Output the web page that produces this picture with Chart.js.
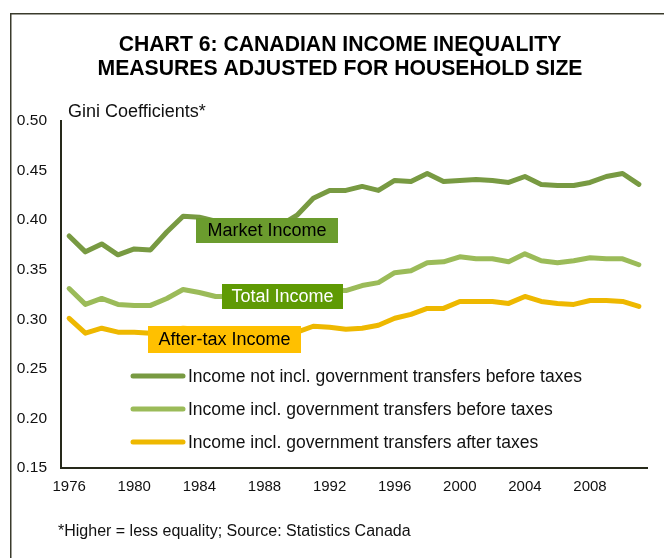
<!DOCTYPE html>
<html>
<head>
<meta charset="utf-8">
<script src="https://cdn.jsdelivr.net/npm/chart.js@4"></script>
<style>
  html, body { margin: 0; padding: 0; background: #fff; }
  #wrap { width: 664px; height: 558px; }
</style>
</head>
<body>
<div id="wrap"><canvas id="chart" width="664" height="558"></canvas></div>
<script>
/* -------------------------
   DATA (Gini coefficients)
------------------------- */
const years = [1976, 1977, 1978, 1979, 1980, 1981, 1982, 1983, 1984, 1985, 1986, 1987,
  1988, 1989, 1990, 1991, 1992, 1993, 1994, 1995, 1996, 1997, 1998, 1999,
  2000, 2001, 2002, 2003, 2004, 2005, 2006, 2007, 2008, 2009, 2010, 2011];

const marketIncome = [0.384, 0.368, 0.376, 0.365, 0.371, 0.370, 0.388, 0.404, 0.403, 0.399, 0.396, 0.395,
  0.393, 0.395, 0.405, 0.422, 0.430, 0.430, 0.434, 0.430, 0.440, 0.439, 0.447, 0.439,
  0.440, 0.441, 0.440, 0.438, 0.444, 0.436, 0.435, 0.435, 0.438, 0.444, 0.447, 0.436];

const totalIncome = [0.331, 0.315, 0.321, 0.315, 0.314, 0.314, 0.321, 0.330, 0.327, 0.323, 0.323, 0.322,
  0.320, 0.320, 0.324, 0.328, 0.329, 0.329, 0.334, 0.337, 0.347, 0.349, 0.357, 0.358,
  0.363, 0.361, 0.361, 0.358, 0.366, 0.359, 0.357, 0.359, 0.362, 0.361, 0.361, 0.355];

const afterTaxIncome = [0.301, 0.286, 0.291, 0.287, 0.287, 0.286, 0.289, 0.291, 0.290, 0.289, 0.288, 0.287,
  0.286, 0.285, 0.287, 0.293, 0.292, 0.290, 0.291, 0.294, 0.301, 0.305, 0.311, 0.311,
  0.318, 0.318, 0.318, 0.316, 0.323, 0.318, 0.316, 0.315, 0.319, 0.319, 0.318, 0.313];

const seriesNames = [
  "Income not incl. government transfers before taxes",
  "Income incl. government transfers before taxes",
  "Income incl. government transfers after taxes"
];

const yTicks = [0.15, 0.20, 0.25, 0.30, 0.35, 0.40, 0.45, 0.50];

const titleLines = ["CHART 6: CANADIAN INCOME INEQUALITY", "MEASURES ADJUSTED FOR HOUSEHOLD SIZE"];
const yAxisTitle = "Gini Coefficients*";
const footnote = "*Higher = less equality; Source: Statistics Canada";

/* -------------------------
   STYLE
------------------------- */
const FONT = '"Liberation Sans", Arial, sans-serif';
const COLORS = ["#789a42", "#9bbb59", "#eeb800"];
const AXIS_COLOR = "#26291a";

/* -------------------------
   DECORATION PLUGIN
   frame, titles, inline labels, legend
------------------------- */
const decorations = {
  id: "decorations",
  beforeDraw(chart) {
    const ctx = chart.ctx;
    ctx.save();
    ctx.strokeStyle = "#3a3b2c";
    ctx.lineWidth = 1.5;
    ctx.beginPath();
    ctx.moveTo(10.75, 558);
    ctx.lineTo(10.75, 13.75);
    ctx.lineTo(664, 13.75);
    ctx.stroke();
    ctx.restore();
  },
  afterDatasetsDraw(chart) {
    const ctx = chart.ctx;
    ctx.save();

    // inline series labels
    const boxes = [
      { text: "Market Income", x: 196, y: 218, w: 142, h: 25, bg: "#6b9c2e", fg: "#000" },
      { text: "Total Income", x: 222, y: 284, w: 121, h: 25, bg: "#5f9a04", fg: "#fff" },
      { text: "After-tax Income", x: 148, y: 326, w: 153, h: 27, bg: "#ffc000", fg: "#000" }
    ];
    ctx.font = "18px " + FONT;
    ctx.textAlign = "center";
    ctx.textBaseline = "middle";
    boxes.forEach(b => {
      ctx.fillStyle = b.bg;
      ctx.fillRect(b.x, b.y, b.w, b.h);
      ctx.fillStyle = b.fg;
      ctx.fillText(b.text, b.x + b.w / 2, b.y + b.h / 2 + 1);
    });

    // legend inside plot
    const rows = [376, 409, 442];
    ctx.font = "17.5px " + FONT;
    ctx.textAlign = "left";
    chart.data.datasets.forEach((ds, i) => {
      ctx.strokeStyle = ds.borderColor;
      ctx.lineWidth = 5;
      ctx.lineCap = "round";
      ctx.beginPath();
      ctx.moveTo(133, rows[i]);
      ctx.lineTo(183, rows[i]);
      ctx.stroke();
      ctx.fillStyle = "#111";
      ctx.fillText(ds.label, 188, rows[i] + 1);
    });
    ctx.restore();
  },
  afterDraw(chart) {
    const ctx = chart.ctx;
    ctx.save();
    ctx.fillStyle = "#000";
    ctx.font = "bold 21.2px " + FONT;
    ctx.textAlign = "center";
    ctx.textBaseline = "middle";
    ctx.fillText(titleLines[0], 340, 45);
    ctx.fillText(titleLines[1], 340, 69);

    ctx.textAlign = "left";
    ctx.textBaseline = "alphabetic";
    ctx.font = "18px " + FONT;
    ctx.fillStyle = "#111";
    ctx.fillText(yAxisTitle, 68, 116.5);

    ctx.font = "16px " + FONT;
    ctx.fillText(footnote, 58, 535.5);
    ctx.restore();
  }
};

/* -------------------------
   CHART
------------------------- */
const lineStyle = color => ({
  borderColor: color,
  backgroundColor: color,
  borderWidth: 5,
  pointRadius: 0,
  pointHoverRadius: 0,
  tension: 0,
  borderCapStyle: "round",
  borderJoinStyle: "round",
  fill: false
});

new Chart(document.getElementById("chart").getContext("2d"), {
  type: "line",
  data: {
    labels: years.map(String),
    datasets: [
      { label: seriesNames[0], data: marketIncome, ...lineStyle(COLORS[0]) },
      { label: seriesNames[1], data: totalIncome, ...lineStyle(COLORS[1]) },
      { label: seriesNames[2], data: afterTaxIncome, ...lineStyle(COLORS[2]) }
    ]
  },
  options: {
    responsive: false,
    animation: false,
    devicePixelRatio: 1,
    layout: { padding: { left: 0, right: 17, top: 121, bottom: 52 } },
    plugins: {
      legend: { display: false },
      title: { display: false },
      tooltip: { enabled: false }
    },
    scales: {
      x: {
        type: "category",
        offset: true,
        grid: { display: false, drawTicks: false },
        border: { display: true, color: AXIS_COLOR, width: 2 },
        ticks: {
          autoSkip: false,
          maxRotation: 0,
          padding: 10,
          color: "#111",
          font: { family: FONT, size: 15 },
          callback: (v, i) => (years[i] % 4 === 0 ? String(years[i]) : "")
        }
      },
      y: {
        min: yTicks[0],
        max: yTicks[yTicks.length - 1],
        afterFit: scale => { scale.width = 61; },
        afterBuildTicks: scale => { scale.ticks = yTicks.map(v => ({ value: v })); },
        grid: { display: false, drawTicks: false },
        border: { display: true, color: AXIS_COLOR, width: 2 },
        ticks: {
          padding: 14,
          color: "#111",
          font: { family: FONT, size: 15.5 },
          callback: v => v.toFixed(2)
        }
      }
    }
  },
  plugins: [decorations]
});
</script>
</body>
</html>
